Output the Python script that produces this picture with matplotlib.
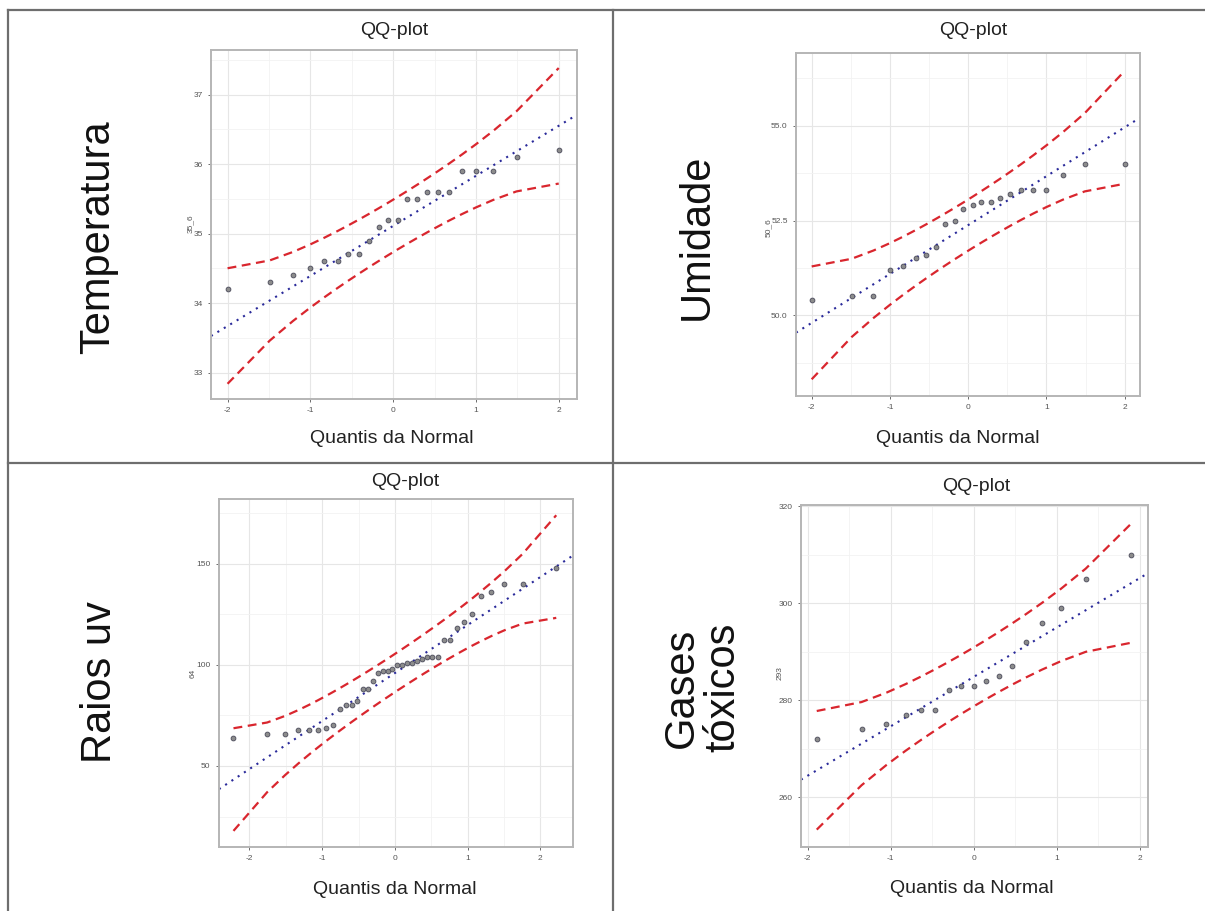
import math
import numpy as np
import matplotlib
matplotlib.use("Agg")
import matplotlib.pyplot as plt
from matplotlib.lines import Line2D
from matplotlib.ticker import MultipleLocator

plt.rcParams['font.family'] = ['Liberation Sans', 'DejaVu Sans']

# %% data (theoretical quantile, sample value)
temp_x = [-2.00, -1.49, -1.21, -1.00, -0.83, -0.67, -0.54, -0.41, -0.29, -0.17, -0.06,
          0.06, 0.17, 0.29, 0.41, 0.54, 0.67, 0.83, 1.00, 1.21, 1.49, 2.00]
temp_y = [34.2, 34.3, 34.4, 34.5, 34.6, 34.6, 34.7, 34.7, 34.9, 35.1, 35.2,
          35.2, 35.5, 35.5, 35.6, 35.6, 35.6, 35.9, 35.9, 35.9, 36.1, 36.2]

umid_x = temp_x
umid_y = [50.4, 50.5, 50.5, 51.2, 51.3, 51.5, 51.6, 51.8, 52.4, 52.5, 52.8,
          52.9, 53.0, 53.0, 53.1, 53.2, 53.3, 53.3, 53.3, 53.7, 54.0, 54.0]

uv_x = [-2.22, -1.757, -1.508, -1.328, -1.183, -1.059, -0.950, -0.851, -0.760, -0.674,
        -0.594, -0.517, -0.443, -0.371, -0.301, -0.233, -0.166, -0.099, -0.033,
        0.033, 0.099, 0.166, 0.233, 0.301, 0.371, 0.443, 0.517, 0.594, 0.674,
        0.760, 0.851, 0.950, 1.059, 1.183, 1.328, 1.508, 1.757, 2.22]
uv_y = [64, 66, 66, 68, 68, 68, 69, 70, 78, 80, 80, 82, 88, 88, 92, 96, 97, 97, 98,
        100, 100, 101, 101, 102, 103, 104, 104, 104, 112, 112, 118, 121, 125, 134,
        136, 140, 140, 148]

gas_x = [-1.89, -1.35, -1.05, -0.82, -0.63, -0.46, -0.30, -0.15, 0.00,
         0.15, 0.30, 0.46, 0.63, 0.82, 1.05, 1.35, 1.89]
gas_y = [272, 274, 275, 277, 278, 278, 282, 283, 283, 284, 285, 287, 292, 296,
         299, 305, 310]

# reference line (intercept, slope)
temp_line = (35.11, 0.72)
umid_line = (52.38, 1.29)
uv_line = (95.9, 23.7)
gas_line = (284.8, 10.2)

row_names = ["Temperatura", "Umidade", "Raios uv", "Gases\ntóxicos"]
ylabels = ["35_6", "50_6", "64", "293"]

# %%
fig = plt.figure(figsize=(12.05, 9.11), dpi=100)

def qq_panel(rect, x, y, line, xlim, ylim, yticks, ytick_labels, ymin_step):
    ax = fig.add_axes(rect)
    x = np.array(x)
    a, b = line
    p = np.array([0.5 * (1 + math.erf(v / math.sqrt(2))) for v in x])
    d = np.exp(-x ** 2 / 2) / math.sqrt(2 * math.pi)
    se = (b / d) * np.sqrt(p * (1 - p) / len(x))
    fit = a + b * x
    ax.plot(x, fit + 1.96 * se, ls=(0, (4, 2.5)), color='#d9262e', lw=1.6, zorder=3)
    ax.plot(x, fit - 1.96 * se, ls=(0, (4, 2.5)), color='#d9262e', lw=1.6, zorder=3)
    ax.axline((0, a), slope=b, ls=(0, (1, 2.6)), color='#2a2a9a', lw=1.5, zorder=2)
    ax.scatter(x, y, s=12, color='#8c8c8c', edgecolor='#4a4a5a', lw=0.6, zorder=4)
    ax.set_xlim(*xlim)
    ax.set_ylim(*ylim)
    ax.set_xticks([-2, -1, 0, 1, 2])
    ax.set_xticklabels(['-2', '-1', '0', '1', '2'])
    ax.set_yticks(yticks)
    ax.set_yticklabels(ytick_labels)
    ax.xaxis.set_minor_locator(MultipleLocator(0.5))
    ax.yaxis.set_minor_locator(MultipleLocator(ymin_step))
    ax.grid(True, which='major', color='#e6e6e6', lw=0.8)
    ax.grid(True, which='minor', color='#f2f2f2', lw=0.6)
    ax.set_axisbelow(True)
    ax.tick_params(which='major', labelsize=6, colors='#555555', length=2.5, width=0.6)
    ax.tick_params(which='minor', length=0)
    for s in ax.spines.values():
        s.set_color('#b5b5b5')
        s.set_linewidth(1.4)
    return ax

qq_panel([0.1751, 0.562, 0.3037, 0.3831], temp_x, temp_y, temp_line,
         (-2.2, 2.22), (32.62, 37.64), [33, 34, 35, 36, 37],
         ['33', '34', '35', '36', '37'], 0.5)
qq_panel([0.6606, 0.5653, 0.2855, 0.3765], umid_x, umid_y, umid_line,
         (-2.2, 2.196), (47.87, 56.92), [50.0, 52.5, 55.0],
         ['50.0', '52.5', '55.0'], 1.25)
qq_panel([0.1817, 0.0703, 0.2938, 0.382], uv_x, uv_y, uv_line,
         (-2.42, 2.45), (10.0, 181.9), [50, 100, 150],
         ['50', '100', '150'], 25)
qq_panel([0.6647, 0.0703, 0.288, 0.3754], gas_x, gas_y, gas_line,
         (-2.08, 2.10), (249.7, 320.3), [260, 280, 300, 320],
         ['260', '280', '300', '320'], 10)

# %% titles, axis texts, row names
for tx, ty in [(0.327, 0.966), (0.8075, 0.966), (0.336, 0.471), (0.81, 0.4665)]:
    fig.text(tx, ty, "QQ-plot", ha='center', va='center', fontsize=14, color='#222222')
for tx, ty in [(0.3253, 0.519), (0.795, 0.519), (0.328, 0.0241), (0.8066, 0.0252)]:
    fig.text(tx, ty, "Quantis da Normal", ha='center', va='center', fontsize=14, color='#222222')
for (tx, ty), lab in zip([(0.1577, 0.754), (0.6373, 0.75), (0.160, 0.261), (0.647, 0.261)], ylabels):
    fig.text(tx, ty, lab, ha='center', va='center', rotation=90, fontsize=6, color='#555555')
for (tx, ty), name in zip([(0.0813, 0.74), (0.578, 0.74), (0.083, 0.2514), (0.583, 0.245)], row_names):
    fig.text(tx, ty, name, ha='center', va='center', rotation=90, fontsize=30,
             color='#111111', multialignment='center', linespacing=1.05)

# %% table borders
border = dict(color='#6e6e6e', lw=1.6)
fig.add_artist(Line2D([8 / 1205, 1], [1 - 10 / 911, 1 - 10 / 911], **border))
fig.add_artist(Line2D([8 / 1205, 1], [1 - 463 / 911, 1 - 463 / 911], **border))
fig.add_artist(Line2D([8 / 1205, 8 / 1205], [0, 1 - 10 / 911], **border))
fig.add_artist(Line2D([612.5 / 1205, 612.5 / 1205], [0, 1 - 10 / 911], **border))

fig.savefig("out.png", dpi=100)
